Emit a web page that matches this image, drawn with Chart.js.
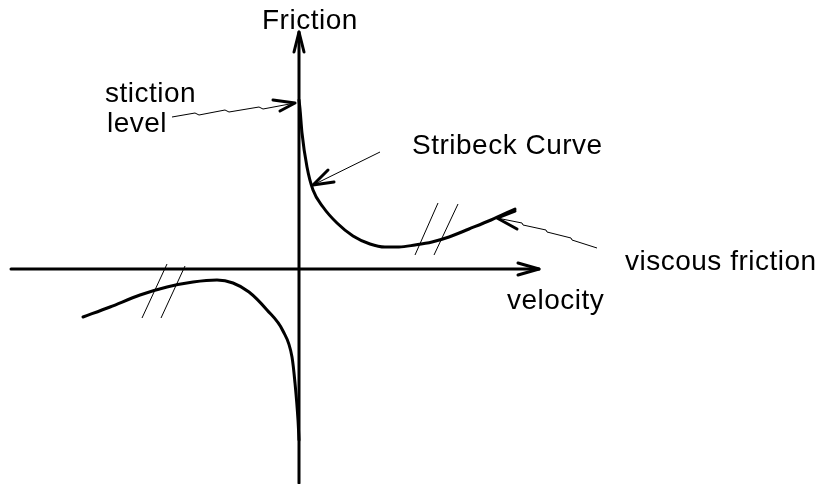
<!DOCTYPE html>
<html>
<head>
<meta charset="utf-8">
<script src="https://cdn.jsdelivr.net/npm/chart.js@4"></script>
<style>
  body { margin: 0; background: #fff; }
  canvas { display: block; }
</style>
</head>
<body>
<canvas id="StribeckChart" width="821" height="484"></canvas>
<script>
// friction vs velocity (velocity, friction)
const positiveBranch = [
    {x: 0, y: 169}, {x: 1, y: 160}, {x: 3, y: 136}, {x: 8, y: 102}, {x: 14, y: 79},
    {x: 24, y: 62}, {x: 38, y: 46}, {x: 54, y: 33}, {x: 71, y: 25}, {x: 86, y: 22},
    {x: 100, y: 22}, {x: 116, y: 24}, {x: 133, y: 27}, {x: 150, y: 32}, {x: 170, y: 40},
    {x: 192, y: 49}, {x: 216, y: 60}
];
const negativeBranch = [
    {x: -216, y: -48}, {x: -189, y: -38}, {x: -159, y: -26}, {x: -132, y: -18},
    {x: -106, y: -13}, {x: -82, y: -11}, {x: -66, y: -14}, {x: -50, y: -23},
    {x: -32, y: -41}, {x: -16, y: -62}, {x: -7, y: -88}, {x: -4, y: -114},
    {x: -1, y: -151}, {x: 0, y: -171}
];

// axes
const velocityAxis = [{x: -288, y: 0}, {x: 240, y: 0}];
const velocityArrow = [{x: 219, y: 6}, {x: 240, y: 0}, {x: 219, y: -6}];
const frictionAxis = [{x: 0, y: -214}, {x: 0, y: 237}];
const frictionArrow = [{x: -5, y: 217}, {x: 0, y: 237}, {x: 5, y: 217}];

// pointers and break marks
const stictionPointer = [
    {x: -127, y: 152}, {x: -104, y: 156}, {x: -100, y: 154}, {x: -74, y: 159},
    {x: -70, y: 157}, {x: -40, y: 162}, {x: -36, y: 160}, {x: -4, y: 166}
];
const stictionHead = [{x: -26, y: 169}, {x: -4, y: 166}, {x: -19, y: 158}];
const stribeckPointer = [{x: 81, y: 117}, {x: 14, y: 84}];
const stribeckHead = [{x: 29, y: 99}, {x: 14, y: 84}, {x: 35, y: 87}];
const viscousPointer = [
    {x: 298, y: 21}, {x: 273, y: 29}, {x: 272, y: 31}, {x: 248, y: 37},
    {x: 247, y: 39}, {x: 224, y: 44}, {x: 223, y: 46}, {x: 198, y: 51}
];
const viscousHead = [{x: 216, y: 58}, {x: 198, y: 51}, {x: 218, y: 40}];
const breakMarks = [
    [{x: 139, y: 66}, {x: 116, y: 14}],
    [{x: 159, y: 65}, {x: 135, y: 14}],
    [{x: -132, y: 5}, {x: -157, y: -49}],
    [{x: -114, y: 3}, {x: -138, y: -49}]
];

// labels: text, velocity, friction (baseline left)
const labelTexts = ["Friction", "stiction", "level", "Stribeck Curve", "viscous friction", "velocity"];
const labelX = [-37, -194, -192, 113, 326, 208];
const labelY = [240, 167, 137, 115, -1, -40];

function thick(data, smooth) {
    return {
        data: data, showLine: true, pointRadius: 0, borderColor: "#000",
        borderWidth: 3, borderCapStyle: "round", borderJoinStyle: "round",
        cubicInterpolationMode: smooth ? "monotone" : "default", tension: 0
    };
}
function thin(data) {
    return {
        data: data, showLine: true, pointRadius: 0, borderColor: "#000",
        borderWidth: 1, tension: 0
    };
}

let datasets = [
    thick(velocityAxis), thick(velocityArrow), thick(frictionAxis), thick(frictionArrow),
    thick(positiveBranch, true), thick(negativeBranch, true),
    thin(stictionPointer), thick(stictionHead), thin(stribeckPointer), thick(stribeckHead),
    thin(viscousPointer), thick(viscousHead)
];
breakMarks.forEach(m => datasets.push(thin(m)));

const labelPlugin = {
    id: "labels",
    afterDatasetsDraw(chart) {
        let ctx = chart.ctx;
        ctx.save();
        ctx.font = '28px "Liberation Sans", Arial, sans-serif';
        ctx.letterSpacing = "0.5px";
        ctx.fillStyle = "#000";
        ctx.textBaseline = "alphabetic";
        labelTexts.forEach((t, i) => {
            ctx.fillText(t, chart.scales.x.getPixelForValue(labelX[i]),
                chart.scales.y.getPixelForValue(labelY[i]));
        });
        ctx.restore();
    }
};

let stribeckCanvas = document.getElementById("StribeckChart").getContext("2d");
let stribeckChart = new Chart(stribeckCanvas, {
    type: "scatter",
    data: { datasets: datasets },
    options: {
        responsive: false,
        animation: false,
        layout: { padding: 0 },
        scales: {
            x: { type: "linear", min: -299, max: 522, display: false },
            y: { type: "linear", min: -215, max: 269, display: false }
        },
        plugins: { legend: { display: false }, tooltip: { enabled: false } }
    },
    plugins: [labelPlugin]
});
</script>
</body>
</html>
